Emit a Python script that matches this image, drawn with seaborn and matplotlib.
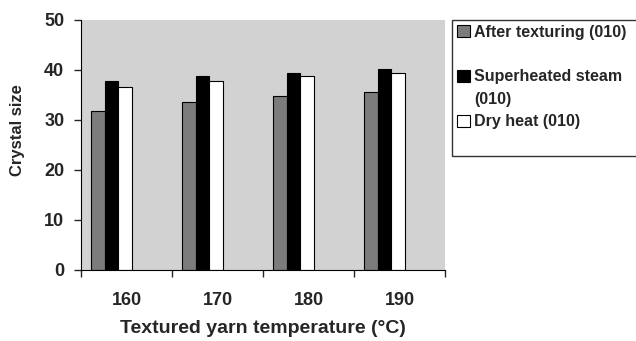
import matplotlib
matplotlib.use("Agg")
import matplotlib.pyplot as plt
import seaborn as sns
import pandas as pd
from matplotlib.patches import Patch

temperatures = ["160", "170", "180", "190"]
series_names = ["After texturing (010)", "Superheated steam (010)", "Dry heat (010)"]
after_texturing = [31.9, 33.7, 34.8, 35.7]
superheated_steam = [37.9, 38.8, 39.5, 40.3]
dry_heat = [36.7, 37.9, 38.8, 39.5]
# legend rows as laid out in the original (wrapped label, blank rows)
legend_rows = ["After texturing (010)", " ", "Superheated steam", "(010)", "Dry heat (010)", " "]
legend_row_series = [0, None, 1, None, 2, None]

rows = []
for name, vals in zip(series_names, [after_texturing, superheated_steam, dry_heat]):
    for t, v in zip(temperatures, vals):
        rows.append({"Temperature": t, "Series": name, "Crystal size": v})
df = pd.DataFrame(rows)

colors = ["#7c7c7c", "#000000", "#ffffff"]

sns.set_style("ticks")
plt.rcParams["font.family"] = ["Liberation Sans", "DejaVu Sans"]

fig = plt.figure(figsize=(6.36, 3.41), dpi=100)
ax = fig.add_axes([81 / 636, 1 - 270 / 341, 364 / 636, 250 / 341])
ax.set_facecolor("#d2d2d2")

sns.barplot(data=df, x="Temperature", y="Crystal size", hue="Series",
            hue_order=series_names, order=temperatures, palette=colors,
            width=0.46, edgecolor="black", linewidth=0.8, ax=ax, legend=False)

for p in ax.patches:
    p.set_x(p.get_x() - 0.165)

ax.set_xlim(-0.5, 3.5)
ax.set_ylim(0, 50)
ax.set_yticks([0, 10, 20, 30, 40, 50])
ax.set_xticks([-0.5, 0.5, 1.5, 2.5, 3.5])
ax.set_xticklabels([])
ax.set_xticks([0, 1, 2, 3], minor=True)
ax.set_xticklabels(temperatures, minor=True, fontsize=13, fontweight="bold")
ax.tick_params(axis="x", which="minor", length=0, pad=16)
ax.tick_params(axis="x", which="major", length=5, width=1, direction="out")
ax.tick_params(axis="y", length=5, width=1, direction="out", labelsize=13, pad=7)
for lbl in ax.get_yticklabels():
    lbl.set_fontweight("bold")

ax.set_ylabel("Crystal size", fontsize=12, fontweight="bold")
ax.yaxis.set_label_coords(-0.155, 0.56)
ax.set_xlabel("Textured yarn temperature (\u00b0C)", fontsize=14, fontweight="bold", labelpad=8)

for s in ["top", "right"]:
    ax.spines[s].set_visible(False)
ax.spines["left"].set_color("black")
ax.spines["bottom"].set_color("black")

handles = []
for idx in legend_row_series:
    if idx is None:
        handles.append(Patch(facecolor="none", edgecolor="none"))
    else:
        handles.append(Patch(facecolor=colors[idx], edgecolor="black", linewidth=0.8))
leg = fig.legend(handles, legend_rows, loc="upper left", mode="expand",
                 bbox_to_anchor=(452 / 636, 0, 200 / 636, 1 - 20 / 341),
                 frameon=True, fancybox=False, edgecolor="black",
                 prop={"family": ["Liberation Sans", "DejaVu Sans"], "weight": "bold", "size": 11.5},
                 handlelength=0.8, handleheight=0.8, handletextpad=0.3,
                 labelspacing=0.46, borderpad=0.3, borderaxespad=0)
leg.get_frame().set_linewidth(1.0)

fig.savefig("out.png", dpi=100)
